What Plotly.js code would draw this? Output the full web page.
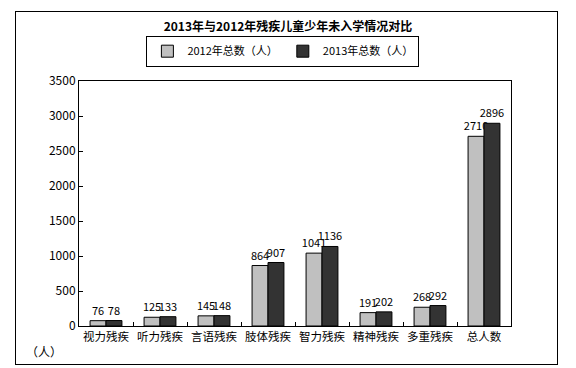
<!DOCTYPE html>
<html><head><meta charset="utf-8">
<script src="https://cdn.plot.ly/plotly-3.0.1.min.js"></script>
<style>
html,body{margin:0;padding:0;background:#fff;}
#wrap{position:relative;width:576px;height:368px;}
#chart{position:absolute;left:0;top:0;width:576px;height:368px;}
#frame{position:absolute;left:15px;top:11px;width:543px;height:354px;border:1px solid #000;box-sizing:border-box;pointer-events:none;}
</style></head>
<body><div id="wrap"><div id="chart"></div><div id="frame"></div></div>
<script>
const categories = ['视力残疾','听力残疾','言语残疾','肢体残疾','智力残疾','精神残疾','多重残疾','总人数'];
const values2012 = [76,125,145,864,1041,191,268,2710];
const values2013 = [78,133,148,907,1136,202,292,2896];
const seriesNames = ['2012年总数（人）','2013年总数（人）'];
const yTicks = [0,500,1000,1500,2000,2500,3000,3500];

const font = "'Noto Sans CJK SC', 'Noto Sans', sans-serif";
const mk = (name, y, color) => ({
  type:'bar', name:name, x:categories, y:y,
  marker:{color:color, line:{color:'#000', width:1}},
  text:y.map(String), textposition:'outside', cliponaxis:false, constraintext:'none',
  textfont:{family:font, size:11, color:'#000'}
});
const data = [mk(seriesNames[0], values2012, '#C0C0C0'), mk(seriesNames[1], values2013, '#333333')];
const layout = {
  width:576, height:368,
  margin:{l:79, r:65, t:81, b:42},
  paper_bgcolor:'#fff', plot_bgcolor:'#fff',
  font:{family:font, size:12, color:'#000'},
  title:{text:'<b>2013年与2012年残疾儿童少年未入学情况对比</b>', font:{family:font, size:12, color:'#000'}, x:0.5, xanchor:'center', y:0.928, yanchor:'middle'},
  barmode:'group', bargap:0.41, bargroupgap:0,
  showlegend:true,
  legend:{orientation:'h', x:0.472, xanchor:'center', y:1.185, yanchor:'top',
    bordercolor:'#000', borderwidth:1, font:{family:font, size:11}, itemwidth:30, traceorder:'normal'},
  xaxis:{type:'category', showline:true, linecolor:'#000', linewidth:1, mirror:true,
    ticks:'inside', ticklen:4, tickcolor:'#000', tickson:'boundaries', showgrid:false,
    tickangle:0, tickfont:{family:font, size:11.5}},
  yaxis:{range:[0,3500], tickvals:yTicks, ticktext:yTicks.map(String), showline:true, linecolor:'#000', linewidth:1, mirror:true,
    ticks:'inside', ticklen:4, tickcolor:'#000', showgrid:false, zeroline:false,
    tickfont:{family:font, size:12}},
  annotations:[{text:'（人）', xref:'paper', yref:'paper', x:-0.08, y:-0.105, xanchor:'center', yanchor:'middle', showarrow:false, font:{family:font, size:12}}]
};
Plotly.newPlot('chart', data, layout, {displayModeBar:false, staticPlot:true});
</script></body></html>
